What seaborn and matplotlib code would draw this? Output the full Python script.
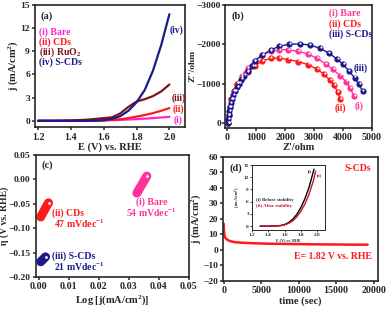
import numpy as np
import pandas as pd
from matplotlib import pyplot as plt
import seaborn as sns

# (a) LSV curves
E = [1.2, 1.3, 1.4, 1.5, 1.55, 1.6, 1.65, 1.7, 1.75, 1.8, 1.85, 1.9, 1.95, 2.0]
j_bare = [0, 0, 0, 0.02, 0.03, 0.05, 0.08, 0.12, 0.17, 0.22, 0.28, 0.35, 0.43, 0.52]
j_cds = [0, 0, 0, 0.02, 0.04, 0.07, 0.12, 0.2, 0.35, 0.55, 0.75, 1.0, 1.3, 1.65]
j_ruo2 = [0, 0, 0.05, 0.15, 0.25, 0.35, 0.45, 0.95, 1.8, 2.5, 2.8, 3.2, 3.8, 4.7]
j_scds = [0, 0, 0, 0, 0.02, 0.08, 0.25, 0.6, 1.3, 2.4, 4.0, 6.5, 9.8, 13.8]

# (b) Nyquist
zr_bare = [30, 50, 80, 130, 220, 330, 500, 700, 950, 1200, 1500, 1800, 2100, 2450, 2800, 3100, 3400, 3650, 3900, 4100, 4250, 4380]
zi_bare = [0, -200, -400, -600, -800, -1000, -1200, -1400, -1580, -1720, -1820, -1860, -1860, -1820, -1750, -1640, -1500, -1360, -1200, -1050, -880, -680]
zr_cds = [30, 50, 80, 140, 230, 350, 500, 700, 950, 1200, 1500, 1800, 2100, 2450, 2800, 3100, 3350, 3550, 3700, 3820, 3900]
zi_cds = [0, -200, -400, -600, -800, -1000, -1150, -1300, -1450, -1570, -1640, -1650, -1610, -1560, -1480, -1370, -1230, -1090, -950, -780, -600]
zr_scds = [30, 40, 50, 70, 90, 120, 160, 200, 260, 330, 400, 480, 580, 700, 850, 950, 1200, 1500, 1800, 2150, 2500, 2850, 3200, 3500, 3800, 4000, 4200, 4400, 4550, 4680]
zi_scds = [0, -100, -200, -300, -400, -500, -600, -700, -800, -900, -1000, -1100, -1200, -1320, -1450, -1570, -1720, -1850, -1950, -2000, -2010, -1980, -1900, -1780, -1620, -1490, -1320, -1150, -980, -800]

# (c) Tafel
tx_bare = [0.0327, 0.0344, 0.036]
ty_bare = [-0.028, -0.010, 0.007]
tx_cds = [0.0007, 0.002, 0.0033]
ty_cds = [-0.077, -0.062, -0.048]
tx_scds = [0.0007, 0.0015, 0.0023]
ty_scds = [-0.169, -0.164, -0.159]

# (d) chronoamperometry
t_sec = [0, 50, 100, 200, 400, 700, 1000, 1500, 2500, 4000, 6000, 9000, 12000, 15000, 17000, 19200]
j_t = [17, 12, 9.5, 8, 6.8, 6, 5.5, 5, 4.6, 4.3, 4.0, 3.8, 3.6, 3.5, 3.4, 3.4]

# inset
E_in = [1.3, 1.4, 1.5, 1.55, 1.6, 1.65, 1.7, 1.75, 1.8, 1.85, 1.9, 1.93, 1.96]
j_before = [0, 0, 0.05, 0.15, 0.4, 0.9, 1.7, 2.9, 4.6, 6.8, 9.6, 11.8, 14.0]
E_in2 = [1.3, 1.4, 1.5, 1.55, 1.6, 1.65, 1.7, 1.75, 1.8, 1.85, 1.9, 1.95, 1.98]
j_after = [0, 0, 0.03, 0.1, 0.3, 0.7, 1.3, 2.3, 3.7, 5.5, 7.9, 11.0, 13.5]

sns.set_style("ticks")
plt.rcParams["font.family"] = ["Liberation Serif", "DejaVu Serif"]
plt.rcParams["font.weight"] = "bold"
plt.rcParams["axes.labelweight"] = "bold"
plt.rcParams["mathtext.fontset"] = "custom"
plt.rcParams["mathtext.rm"] = "Liberation Serif:bold"
plt.rcParams["mathtext.it"] = "Liberation Serif:bold"
plt.rcParams["mathtext.bf"] = "Liberation Serif:bold"
plt.rcParams["axes.linewidth"] = 1.2
plt.rcParams["xtick.major.width"] = 1.1
plt.rcParams["ytick.major.width"] = 1.1
plt.rcParams["xtick.major.size"] = 2.5
plt.rcParams["ytick.major.size"] = 2.5
plt.rcParams["xtick.major.pad"] = 1.5
plt.rcParams["ytick.major.pad"] = 1.0
plt.rcParams["xtick.labelsize"] = 7.2
plt.rcParams["ytick.labelsize"] = 6.8
plt.rcParams["axes.labelsize"] = 7.5

PINK_A = "#ff22d6"
PINK = "#ff3399"
RED = "#ff1a1a"
DRED = "#80141a"
NAVY = "#1a1a8c"
TXT = 7

fig = plt.figure(figsize=(3.87, 3.09), dpi=100)
ax_a = fig.add_axes([0.090, 0.589, 0.388, 0.395])
ax_b = fig.add_axes([0.582, 0.586, 0.379, 0.398])
ax_c = fig.add_axes([0.092, 0.104, 0.396, 0.394])
ax_d = fig.add_axes([0.576, 0.091, 0.400, 0.401])

# ---- (a)
for y, c in [(j_bare, PINK_A), (j_cds, RED), (j_ruo2, DRED), (j_scds, NAVY)]:
    sns.lineplot(x=E, y=y, color=c, lw=1.6, ax=ax_a)
ax_a.set_xlim(1.18, 2.095)
ax_a.set_ylim(-0.8, 15)
ax_a.set_xticks([1.2, 1.4, 1.6, 1.8, 2.0])
ax_a.set_yticks([0, 3, 6, 9, 12, 15])
ax_a.set_xlabel("E (V) vs. RHE", labelpad=0.5)
ax_a.set_ylabel("j (mA/cm$^2$)", labelpad=0.5)
ax_a.text(0.04, 0.95, "(a)", transform=ax_a.transAxes, fontsize=7.5, va="top")
for i, (s, c) in enumerate([("(i) Bare", PINK_A), ("(ii) CDs", RED),
                            ("(iii) RuO$_2$", DRED), ("(iv) S-CDs", NAVY)]):
    ax_a.text(0.03, 0.78 - i * 0.083, s, color=c, transform=ax_a.transAxes,
              fontsize=TXT, va="center")
ax_a.text(2.045, 11.7, "(iv)", color=NAVY, fontsize=TXT, ha="center", va="center")
ax_a.text(2.055, 2.9, "(iii)", color=DRED, fontsize=TXT, ha="center", va="center")
ax_a.text(2.055, 1.45, "(ii)", color=RED, fontsize=TXT, ha="center", va="center")
ax_a.text(2.055, 0.05, "(i)", color=PINK_A, fontsize=TXT, ha="center", va="center")

# ---- (b)
for zr, zi, c in [(zr_bare, zi_bare, PINK), (zr_cds, zi_cds, RED), (zr_scds, zi_scds, NAVY)]:
    sns.lineplot(x=zr, y=zi, color=c, lw=1.0, ax=ax_b, sort=False)
    sns.scatterplot(x=zr, y=zi, color=c, s=20, linewidth=0, ax=ax_b, zorder=3)
    sns.scatterplot(x=np.array(zr) + 25, y=np.array(zi) - 30, color="white", s=2.5,
                    linewidth=0, ax=ax_b, zorder=4)
ax_b.set_xlim(-70, 5000)
ax_b.set_ylim(130, -3000)
ax_b.set_xticks([0, 1000, 2000, 3000, 4000, 5000])
ax_b.set_yticks([-3000, -2000, -1000, 0])
ax_b.set_yticklabels(["\u22123000", "\u22122000", "\u22121000", "0"])
ax_b.tick_params(axis="y", pad=0.5)
ax_b.set_xlabel("Z'/ohm", labelpad=0.5)
ax_b.set_ylabel("Z''/ohm", labelpad=0, fontsize=6.8)
ax_b.text(0.04, 0.95, "(b)", transform=ax_b.transAxes, fontsize=7.5, va="top")
for i, (s, c) in enumerate([("(i) Bare", PINK), ("(ii) CDs", RED), ("(iii) S-CDs", NAVY)]):
    ax_b.text(0.71, 0.93 - i * 0.085, s, color=c, transform=ax_b.transAxes,
              fontsize=TXT, va="center")
ax_b.text(4600, -1380, "(iii)", color=NAVY, fontsize=TXT, ha="center", va="center")
ax_b.text(4560, -430, "(i)", color=PINK, fontsize=TXT, ha="center", va="center")
ax_b.text(3900, -370, "(ii)", color=RED, fontsize=TXT, ha="center", va="center")

# ---- (c)
for tx, ty, c in [(tx_bare, ty_bare, PINK), (tx_cds, ty_cds, RED), (tx_scds, ty_scds, NAVY)]:
    sns.lineplot(x=tx, y=ty, color=c, lw=6.5, ax=ax_c, solid_capstyle="round")
    sns.scatterplot(x=tx[-1:], y=ty[-1:], color="white", s=4, linewidth=0, ax=ax_c, zorder=4)
ax_c.set_xlim(-0.001, 0.05)
ax_c.set_ylim(-0.2, 0.05)
ax_c.set_xticks([0.0, 0.01, 0.02, 0.03, 0.04, 0.05])
ax_c.set_xticklabels(["0.00", "0.01", "0.02", "0.03", "0.04", "0.05"])
ax_c.set_yticks([-0.2, -0.15, -0.1, -0.05, 0.0, 0.05])
ax_c.set_yticklabels(["\u22120.20", "\u22120.15", "\u22120.10", "\u22120.05", "0.00", "0.05"])
ax_c.set_xlabel("Log [j(mA/cm$^2$)]", labelpad=1)
ax_c.set_ylabel("\u03b7 (V vs. RHE)", labelpad=0, fontsize=7)
ax_c.text(0.04, 0.96, "(c)", transform=ax_c.transAxes, fontsize=7.5, va="top")
ax_c.text(0.0376, -0.046, "(i) Bare", color=PINK, fontsize=TXT, ha="center", va="center")
ax_c.text(0.0376, -0.069, "54 mVdec$^{-1}$", color=PINK, fontsize=TXT, ha="center", va="center")
ax_c.text(0.0043, -0.069, "(ii) CDs", color=RED, fontsize=TXT, ha="left", va="center")
ax_c.text(0.005, -0.091, "47 mVdec$^{-1}$", color=RED, fontsize=TXT, ha="left", va="center")
ax_c.text(0.0043, -0.157, "(iii) S-CDs", color=NAVY, fontsize=TXT, ha="left", va="center")
ax_c.text(0.005, -0.179, "21 mVdec$^{-1}$", color=NAVY, fontsize=TXT, ha="left", va="center")

# ---- (d)
sns.lineplot(x=t_sec, y=j_t, color=RED, lw=1.8, ax=ax_d)
ax_d.set_xlim(-100, 20550)
ax_d.set_ylim(-20, 60)
ax_d.set_xticks([0, 5000, 10000, 15000, 20000])
ax_d.set_yticks([-20, -10, 0, 10, 20, 30, 40, 50, 60])
ax_d.set_yticklabels(["\u221220", "\u221210", "0", "10", "20", "30", "40", "50", "60"])
ax_d.set_xlabel("time (sec)", labelpad=0.5)
ax_d.set_ylabel("j (mA/cm$^2$)", labelpad=0)
ax_d.text(0.04, 0.95, "(d)", transform=ax_d.transAxes, fontsize=7.5, va="top")
ax_d.text(0.96, 0.94, "S-CDs", color=RED, transform=ax_d.transAxes, fontsize=TXT,
          ha="right", va="top")
ax_d.text(0.96, 0.2, "E= 1.82 V vs. RHE", color=RED, transform=ax_d.transAxes,
          fontsize=TXT, ha="right", va="center")

ax_in = fig.add_axes([0.651, 0.255, 0.190, 0.211])
sns.lineplot(x=E_in, y=j_before, color="black", lw=1.0, ax=ax_in)
sns.lineplot(x=E_in2, y=j_after, color="#c8102e", lw=1.0, ax=ax_in)
ax_in.set_xlim(1.2, 2.1)
ax_in.set_ylim(-1, 15)
ax_in.set_xticks([1.2, 1.4, 1.6, 1.8, 2.0])
ax_in.set_yticks([0, 3, 6, 9, 12, 15])
ax_in.tick_params(labelsize=3.8, length=1.2, width=0.6, pad=1)
for sp in ax_in.spines.values():
    sp.set_linewidth(0.7)
ax_in.set_xlabel("E (V) vs. RHE", fontsize=3, labelpad=0.5)
ax_in.set_ylabel("j (mA/cm$^2$)", fontsize=3, labelpad=0.5)
ax_in.text(0.06, 0.45, "(i) Before stability", transform=ax_in.transAxes, fontsize=3.5)
ax_in.text(0.06, 0.36, "(ii) After stability", color="#c8102e", transform=ax_in.transAxes,
           fontsize=3.5)
ax_in.text(1.88, 13.3, "(i)", fontsize=3)
ax_in.text(1.99, 12.3, "(ii)", color="#c8102e", fontsize=3)

fig.savefig("out.png", dpi=100)
